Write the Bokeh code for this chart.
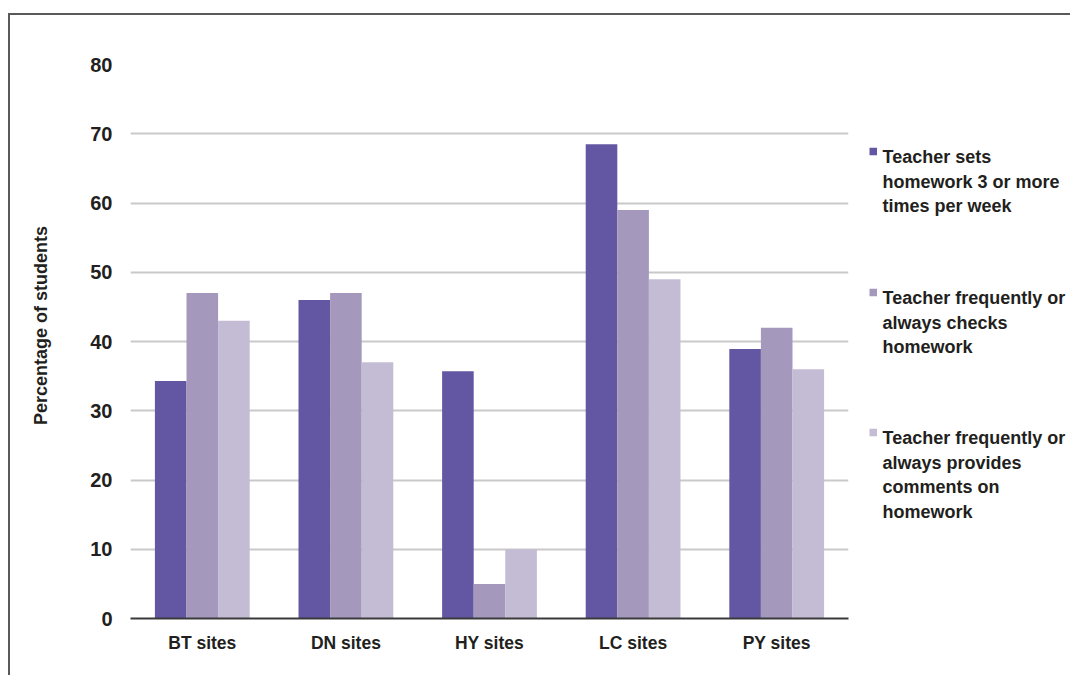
import math
from bokeh.plotting import figure
from bokeh.models import Range1d, FactorRange
from bokeh.transform import dodge
from bokeh.layouts import row
from bokeh.embed import file_html
from bokeh.resources import INLINE
from bokeh.core.properties import value

# ---- data ----
categories = ["BT sites", "DN sites", "HY sites", "LC sites", "PY sites"]
sets_hw = [34.3, 46.0, 35.7, 68.5, 38.9]
checks_hw = [47.0, 47.0, 5.0, 59.0, 42.0]
comments_hw = [43.0, 37.0, 10.0, 49.0, 36.0]
series_names = [
    ["Teacher sets", "homework 3 or more", "times per week"],
    ["Teacher frequently or", "always checks", "homework"],
    ["Teacher frequently or", "always provides", "comments on", "homework"],
]
colors = ["#6357A4", "#A499BD", "#C4BCD4"]
y_ticks = [0, 10, 20, 30, 40, 50, 60, 70, 80]
y_title = "Percentage of students"

FONT = "Liberation Sans"
TXT = "#231F20"
TOP, BOTTOM, H = 49, 57, 660
# page-pixel coordinates of the shared frame (canvas starts at page y=16)
FRAME_TOP_PX, FRAME_BOTTOM_PX = 16 + TOP, 16 + H - BOTTOM


def panel(x0, w):
    f = figure(width=w, height=H, x_range=Range1d(x0, x0 + w),
               y_range=Range1d(FRAME_BOTTOM_PX, FRAME_TOP_PX),
               x_axis_type=None, y_axis_type=None, output_backend="svg",
               toolbar_location=None, min_border_left=0, min_border_right=0,
               min_border_top=TOP, min_border_bottom=BOTTOM)
    f.outline_line_color = None
    f.grid.visible = False
    return f


# ---- y title panel ----
lab = panel(10, 60)
lab.text(x=[40], y=[326], text=[y_title], angle=math.pi / 2, text_font=value(FONT),
         text_font_style="bold", text_font_size="18px", text_color=TXT,
         text_align="center", text_baseline="middle")

# ---- main chart ----
source = dict(cat=categories, a=sets_hw, b=checks_hw, c=comments_hw)
p = figure(x_range=FactorRange(*categories), y_range=Range1d(0, 80),
           width=780, height=H, output_backend="svg", toolbar_location=None,
           min_border_left=60, min_border_right=2, min_border_top=TOP,
           min_border_bottom=BOTTOM)
p.x_range.range_padding = 0
bw = 0.22
for key, off, col in zip(["a", "b", "c"], [-bw, 0, bw], colors):
    p.vbar(x=dodge("cat", off, range=p.x_range), top=key, width=bw, source=source,
           fill_color=col, line_color=None)

p.outline_line_color = None
p.xgrid.grid_line_color = None
p.ygrid.grid_line_color = "#C9C9C9"
p.ygrid.grid_line_width = 2
p.yaxis.ticker = y_ticks
p.yaxis.axis_line_color = None
p.yaxis.major_tick_line_color = None
p.yaxis.minor_tick_line_color = None
p.yaxis.major_label_standoff = 12
p.yaxis.major_label_text_font = FONT
p.yaxis.major_label_text_font_style = "bold"
p.yaxis.major_label_text_font_size = "20px"
p.yaxis.major_label_text_color = TXT

p.xaxis.axis_line_color = "#3A3A3A"
p.xaxis.axis_line_width = 2
p.xaxis.major_tick_line_color = None
p.xaxis.minor_tick_line_color = None
p.xaxis.major_label_standoff = 8
p.xaxis.major_label_text_font = FONT
p.xaxis.major_label_text_font_style = "bold"
p.xaxis.major_label_text_font_size = "17.5px"
p.xaxis.major_label_text_color = TXT

# ---- legend panel ----
lg = panel(850, 220)
item_tops = [148.3, 289.3, 429.3]
sq = 7.5
for top, col, lines in zip(item_tops, colors, series_names):
    lg.quad(left=[869], right=[869 + sq], top=[top], bottom=[top + sq],
            fill_color=col, line_color=None)
    ys = [top + 9.5 + 24.5 * i for i in range(len(lines))]
    lg.text(x=[882] * len(lines), y=ys, text=lines, text_font=value(FONT),
            text_font_style="bold", text_font_size="18px", text_color=TXT,
            text_baseline="alphabetic", text_align="left")

layout = row(lab, p, lg)
layout.styles = {"border-left": "2px solid #595959", "border-top": "2px solid #595959",
                 "margin-top": "13px", "margin-left": "8px"}

open("out.html", "w").write(file_html(layout, INLINE))
